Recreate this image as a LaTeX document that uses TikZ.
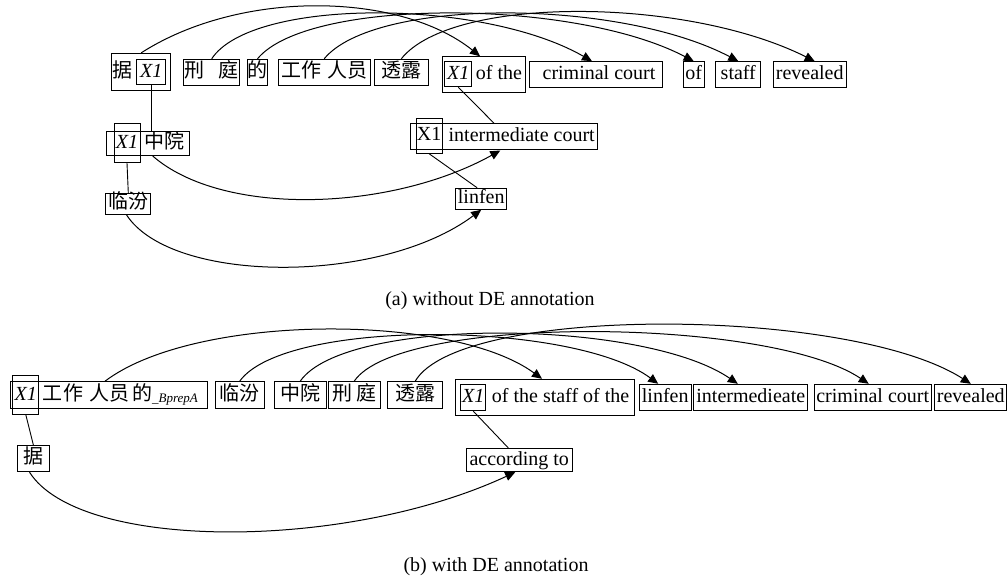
\documentclass[tikz,border=0pt]{standalone}
\usepackage{fontspec}
\setmainfont{Liberation Serif}
\newfontfamily\cjk{Noto Sans CJK SC}
\usetikzlibrary{arrows.meta}
\newcommand{\zh}[1]{{\cjk #1}}

\begin{document}
\begin{tikzpicture}[x=1pt,y=-1pt,font=\fontsize{20}{24}\selectfont]
	\tikzstyle{word}=[draw,line width=1pt,inner xsep=1pt,inner ysep=0pt,minimum height=26pt,text height=14pt,text depth=4pt]
	\tikzstyle{var}=[draw,line width=1pt,inner sep=0pt,text height=14pt,text depth=4pt]
	\tikzstyle{txt}=[inner sep=0pt,text height=14pt,text depth=4pt]
	\tikzstyle{edge}=[draw,line width=1pt,-{Triangle[length=10pt,width=9pt]}]
	\tikzstyle{link}=[draw,line width=0.9pt]
	\useasboundingbox (0,0) rectangle (1008,580);
	% (a) without DE annotation
	\begin{scope}
		\node [word,minimum width=59pt,minimum height=36.7pt] (a_ju) at (141.2,71.7) {};
		\node [txt] (a_jut) at (122,72.5) {\zh{据}};
		\node [var,minimum width=29pt,minimum height=25pt] (a_jux) at (151.2,72.5) {\textit{X1}};
		\node [word,minimum width=55.3pt] (a_xt) at (211.7,72.3) {\zh{刑}\hspace{14pt}\zh{庭}};
		\node [word,inner xsep=0pt,minimum width=18.4pt] (a_de) at (257.5,72.3) {\zh{的}};
		\node [word,minimum width=91.7pt] (a_gz) at (324.2,72.3) {\zh{工作}\hspace{6pt}\zh{人员}};
		\node [word,minimum width=54pt] (a_tl) at (401.3,72.3) {\zh{透露}};
		\node [word,minimum width=83.4pt,minimum height=35.6pt] (a_of) at (484,74.5) {};
		\node [var,minimum width=26.7pt,minimum height=25pt] (a_ofx) at (458.3,74.2) {\textit{X1}};
		\node [txt] (a_oft) at (499,75) {of the};
		\node [word,minimum width=133.4pt] (a_cc) at (596,74.7) {\hspace{6pt}criminal court};
		\node [word,minimum width=20.7pt] (a_o) at (693.7,74.7) {of};
		\node [word,minimum width=45.3pt] (a_st) at (738.3,74.7) {staff};
		\node [word,minimum width=72.7pt] (a_rv) at (809.7,74.7) {revealed};
		\node [word,minimum width=83.3pt,minimum height=24pt] (a_zy) at (147.7,143.5) {};
		\node [var,minimum width=26pt,minimum height=38.7pt] (a_zyx) at (127,143.3) {\textit{X1}};
		\node [txt] (a_zyt) at (164,143.5) {\zh{中院}};
		\node [word,minimum width=186.7pt] (a_ic) at (504.3,137) {};
		\node [var,minimum width=26.3pt,minimum height=35pt] (a_icx) at (429.2,135.8) {X1};
		\node [txt] (a_ict) at (521.7,137) {intermediate court};
		\node [word,minimum width=51pt,minimum height=21pt] (a_lf) at (481.2,198.8) {linfen};
		\node [word,minimum width=44.7pt,minimum height=20.7pt] (a_lfz) at (128.3,203.7) {\zh{临汾}};
		\path[link] (a_jux.south) -- (a_jux.south |- a_zy.north);
		\path[link] (a_ofx.south) -- ([xshift=-10pt]a_ic.north);
		\path[link] (a_icx.south) -- ([xshift=-4pt]a_lf.north);
		\path[link] (a_zyx.south) -- (a_lfz.north);
		\path[edge] ([xshift=5pt]a_zy.south) .. controls +(70,61) and +(-110,61) .. ([xshift=-4pt]a_ic.south);
		\path[edge] ([xshift=-2pt]a_lfz.south) .. controls +(45,70) and +(-100,75) .. (a_lf.south);
		\path[edge] (a_ju.north) .. controls +(100,-64) and +(-80,-64) .. ([xshift=-4pt]a_of.north);
		\path[edge] (a_xt.north) .. controls +(40,-61) and +(-110,-63) .. ([xshift=-4pt]a_cc.north);
		\path[edge] (a_de.north) .. controls +(50,-61) and +(-120,-63) .. (a_o.north);
		\path[edge] (a_gz.north) .. controls +(50,-61) and +(-120,-63) .. (a_st.north);
		\path[edge] (a_tl.north) .. controls +(50,-63) and +(-130,-65) .. ([xshift=5pt]a_rv.north);
		\node [txt] (cap_a) at (490,300) {(a) without DE annotation};
	\end{scope}
	% (b) with DE annotation
	\begin{scope}
		\node [word,minimum width=196.6pt,minimum height=26.6pt] (b_gz) at (109,395) {};
		\node [var,minimum width=26.3pt,minimum height=38.6pt] (b_gzx) at (25.8,395) {\textit{X1}};
		\node [txt,anchor=west] (b_gzt) at (42,395) {\zh{工}\hspace{1pt}\zh{作}\hspace{6pt}\zh{人员}\hspace{3pt}\zh{的}\raisebox{-2pt}{\fontsize{13}{15}\selectfont\textit{\_BprepA}}};
		\node [word,minimum width=49.3pt,minimum height=26.6pt] (b_lf) at (239.7,395) {\zh{临汾}};
		\node [word,minimum width=51.7pt,minimum height=26.6pt] (b_zy) at (300.2,395) {\zh{中院}};
		\node [word,minimum width=51.7pt,minimum height=26.6pt] (b_xt) at (354.2,395) {\zh{刑}\hspace{4pt}\zh{庭}};
		\node [word,minimum width=55pt,minimum height=26.6pt] (b_tl) at (415.2,395) {\zh{透露}};
		\node [word,minimum width=178.6pt,minimum height=36pt] (b_of) at (545,397.3) {};
		\node [var,minimum width=25.3pt,minimum height=26.4pt] (b_ofx) at (473.3,397.5) {\textit{X1}};
		\node [txt,anchor=west] (b_oft) at (491.7,397.5) {of the staff of the};
		\node [word,minimum width=51.7pt,minimum height=26.4pt] (b_lfe) at (665.2,397.5) {linfen};
		\node [word,minimum width=114.3pt,minimum height=26.4pt] (b_im) at (750.8,397.5) {intermedieate};
		\node [word,minimum width=117.3pt,minimum height=26.4pt] (b_cc) at (872.7,397.5) {criminal court};
		\node [word,minimum width=72.3pt,minimum height=26.4pt] (b_rv) at (970.8,397.5) {revealed};
		\node [word,minimum width=106.3pt,minimum height=23.4pt] (b_ac) at (519.2,460) {according to};
		\node [word,minimum width=31.6pt,minimum height=25.7pt] (b_ju) at (33.5,458.8) {\zh{据}};
		\path[link] (b_gzx.south) -- (b_ju.north);
		\path[link] (b_ofx.south) -- ([xshift=-11pt]b_ac.north);
		\path[edge] ([xshift=-4pt]b_ju.south) .. controls +(50,79) and +(-170,79) .. ([xshift=-4pt]b_ac.south);
		\path[edge] ([xshift=-4pt]b_gz.north) .. controls +(90,-68) and +(-90,-66) .. ([xshift=-3pt]b_of.north);
		\path[edge] (b_lf.north) .. controls +(45,-63) and +(-85,-63) .. ([xshift=-7pt]b_lfe.north);
		\path[edge] (b_zy.north) .. controls +(45,-65) and +(-95,-65) .. ([xshift=-13pt]b_im.north);
		\path[edge] (b_xt.north) .. controls +(45,-67) and +(-100,-67) .. ([xshift=-4pt]b_cc.north);
		\path[edge] (b_tl.north) .. controls +(45,-77) and +(-120,-77) .. (b_rv.north);
		\node [txt] (cap_b) at (496,566) {(b) with DE annotation};
	\end{scope}
\end{tikzpicture}
\end{document}
